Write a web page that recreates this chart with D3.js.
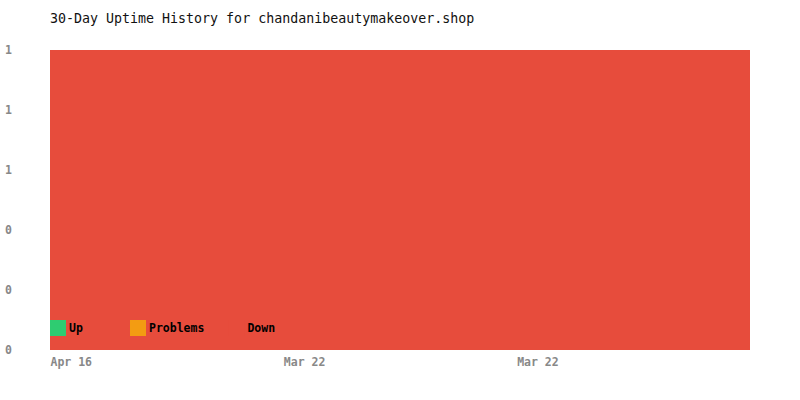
<!DOCTYPE html>
<html>
<head>
<meta charset="utf-8">
<script src="https://cdn.jsdelivr.net/npm/d3@7"></script>
<style>
  body { margin: 0; background: #fff; }
  svg text { font-family: "DejaVu Sans Mono", "Liberation Mono", monospace; }
</style>
</head>
<body>
<div id="chart"></div>
<script>
// data: 30 days, share of each status per day
let days = d3.range(30);
let upValues = d3.range(30).map(() => 0);
let problemValues = d3.range(30).map(() => 0);
let downValues = [1,1,1,1,1,1,1,1,1,1,1,1,1,1,1,1,1,1,1,1,1,1,1,1,1,1,1,1,1,1];
let statusNames = ["Up", "Problems", "Down"];
let statusColors = ["#2ecc71", "#f39c12", "#e74c3c"];
let xTickValues = [0, 10, 20];
let xTickLabels = ["Apr 16", "Mar 22", "Mar 22"];
let yTickValues = [0, 0.2, 0.4, 0.6, 0.8, 1];

/** CONSTANTS */
let width = 800,
  height = 400,
  margin = { top: 50, bottom: 50, left: 50, right: 50 };

let table = days.map((d, i) => ({ day: d, Up: upValues[i], Problems: problemValues[i], Down: downValues[i] }));
let series = d3.stack().keys(statusNames)(table);

/** SCALES */
let xScale = d3.scaleLinear()
  .domain([0, days.length])
  .range([margin.left, width - margin.right]);

let yScale = d3.scaleLinear()
  .domain([0, 1])
  .range([height - margin.bottom, margin.top]);

let color = d3.scaleOrdinal().domain(statusNames).range(statusColors);

/** MAIN CODE */
let svg = d3.select("#chart")
  .append("svg")
  .attr("width", width)
  .attr("height", height);

svg.append("text")
  .attr("x", margin.left)
  .attr("y", 23)
  .attr("font-size", "13.3px")
  .attr("fill", "#111")
  .text("30-Day Uptime History for chandanibeautymakeover.shop");

// stacked day bars
svg.append("g")
  .selectAll("g")
  .data(series)
  .join("g")
  .attr("fill", d => color(d.key))
  .selectAll("rect")
  .data(d => d)
  .join("rect")
  .attr("shape-rendering", "crispEdges")
  .attr("x", d => xScale(d.data.day))
  .attr("width", d => xScale(d.data.day + 1) - xScale(d.data.day))
  .attr("y", d => yScale(d[1]))
  .attr("height", d => yScale(d[0]) - yScale(d[1]));

// y axis
let yAxis = d3.axisLeft(yScale).tickValues(yTickValues).tickFormat(d3.format("d")).tickSize(0);
let gy = svg.append("g")
  .attr("transform", "translate(5,0)")
  .call(yAxis);
gy.select(".domain").remove();
gy.selectAll("text")
  .attr("x", 0)
  .attr("dy", "0.32em")
  .attr("text-anchor", "start")
  .attr("font-size", "11.5px")
  .attr("font-weight", "bold")
  .attr("font-family", "'DejaVu Sans Mono', monospace")
  .attr("fill", "#888");

// x axis
let xAxis = d3.axisBottom(xScale).tickValues(xTickValues).tickFormat((d, i) => xTickLabels[i]).tickSize(0);
let gx = svg.append("g")
  .attr("transform", `translate(0, ${height - margin.bottom})`)
  .call(xAxis);
gx.select(".domain").remove();
gx.selectAll("text")
  .attr("y", 8)
  .attr("dy", "0.71em")
  .attr("text-anchor", "start")
  .attr("font-size", "11.5px")
  .attr("font-weight", "bold")
  .attr("font-family", "'DejaVu Sans Mono', monospace")
  .attr("fill", "#888");

// legend, each item placed after the previous one
let legend = svg.append("g");
let legendX = margin.left;
statusNames.forEach(name => {
  let item = legend.append("g").attr("transform", `translate(${legendX}, 320)`);
  item.append("rect")
    .attr("width", 16)
    .attr("height", 16)
    .attr("fill", color(name));
  let label = item.append("text")
    .attr("x", 19)
    .attr("y", 8)
    .attr("dy", "0.35em")
    .attr("font-size", "11.5px")
    .attr("font-weight", "bold")
    .attr("fill", "#000")
    .text(name);
  legendX += Math.max(80, 19 + label.node().getComputedTextLength() + 24);
});
</script>
</body>
</html>
